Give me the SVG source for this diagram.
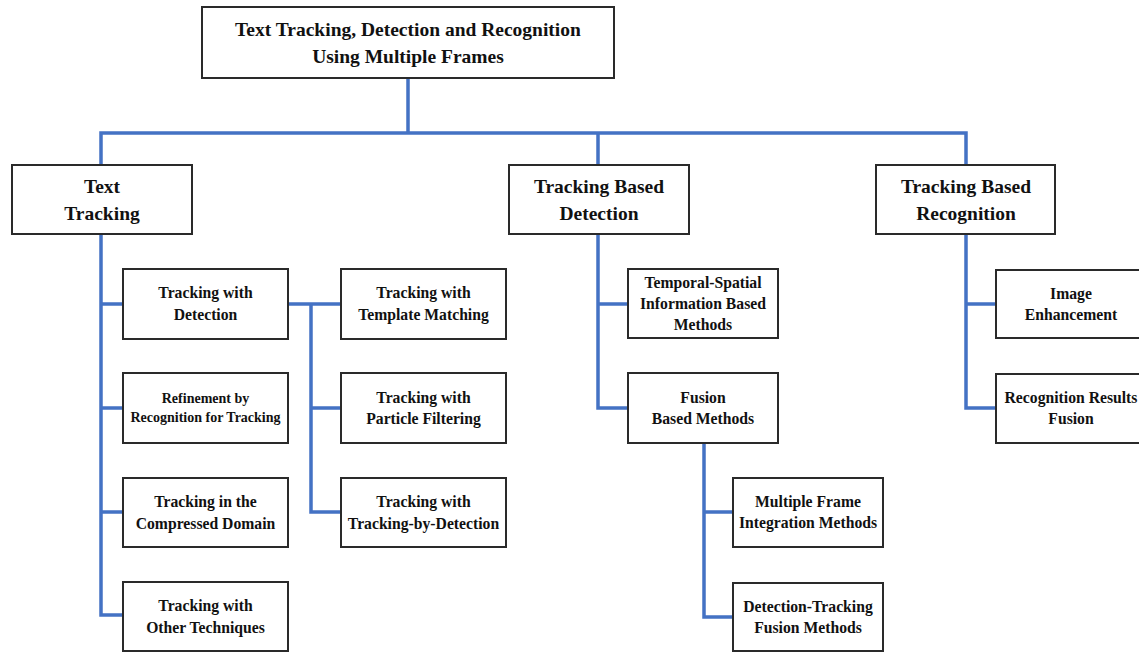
<svg xmlns="http://www.w3.org/2000/svg" width="1139" height="652" viewBox="0 0 1139 652">
<style>
.box{fill:#fff;stroke:#2a2a2a;stroke-width:2}
.t{font-family:"Liberation Serif","Times New Roman",serif;font-weight:bold;fill:#111;text-anchor:middle}
.t1{font-size:19.5px}
.t3{font-size:15.7px}
.t4{font-size:14px}
.c{fill:none;stroke:#4472c4;stroke-width:3.5;stroke-linejoin:miter}
</style>
<rect width="1139" height="652" fill="#fff"/>
<g id="connectors">
<path class="c" d="M408 78 V133 M101 165 V133 H966 V165 M598 133 V165"/>
<path class="c" d="M101 234 V615 H123 M101 304 H123 M101 408 H123 M101 512 H123"/>
<path class="c" d="M288 304 H341 M311 304 V512 H341 M311 408 H341"/>
<path class="c" d="M598 234 V408 H628 M598 304 H628"/>
<path class="c" d="M704 443 V617 H733 M704 512 H733"/>
<path class="c" d="M966 234 V408 H996 M966 304 H996"/>
</g>
<g id="root"><rect class="box" x="202" y="7" width="412" height="71"/>
<text class="t t1" x="408" y="36">Text Tracking, Detection and Recognition</text>
<text class="t t1" x="408" y="63">Using Multiple Frames</text></g>
<g id="text-tracking"><rect class="box" x="12" y="165" width="180" height="69"/>
<text class="t t1" x="102" y="193">Text</text>
<text class="t t1" x="102" y="220">Tracking</text></g>
<g id="tracking-based-detection"><rect class="box" x="509" y="165" width="180" height="69"/>
<text class="t t1" x="599" y="193">Tracking Based</text>
<text class="t t1" x="599" y="220">Detection</text></g>
<g id="tracking-based-recognition"><rect class="box" x="876" y="165" width="179" height="69"/>
<text class="t t1" x="966" y="193">Tracking Based</text>
<text class="t t1" x="966" y="220">Recognition</text></g>
<g id="tracking-with-detection"><rect class="box" x="123" y="269" width="165" height="70"/>
<text class="t t3" x="205.5" y="298">Tracking with</text>
<text class="t t3" x="205.5" y="320">Detection</text></g>
<g id="refinement"><rect class="box" x="123" y="373" width="165" height="70"/>
<text class="t t4" x="205.5" y="403">Refinement by</text>
<text class="t t4" x="205.5" y="422">Recognition for Tracking</text></g>
<g id="compressed-domain"><rect class="box" x="123" y="478" width="165" height="69"/>
<text class="t t3" x="205.5" y="507">Tracking in the</text>
<text class="t t3" x="205.5" y="529">Compressed Domain</text></g>
<g id="other-techniques"><rect class="box" x="123" y="582" width="165" height="69"/>
<text class="t t3" x="205.5" y="611">Tracking with</text>
<text class="t t3" x="205.5" y="633">Other Techniques</text></g>
<g id="template-matching"><rect class="box" x="341" y="269" width="165" height="70"/>
<text class="t t3" x="423.5" y="298">Tracking with</text>
<text class="t t3" x="423.5" y="320">Template Matching</text></g>
<g id="particle-filtering"><rect class="box" x="341" y="373" width="165" height="70"/>
<text class="t t3" x="423.5" y="403">Tracking with</text>
<text class="t t3" x="423.5" y="424">Particle Filtering</text></g>
<g id="tracking-by-detection"><rect class="box" x="341" y="478" width="165" height="69"/>
<text class="t t3" x="423.5" y="507">Tracking with</text>
<text class="t t3" x="423.5" y="529">Tracking-by-Detection</text></g>
<g id="temporal-spatial"><rect class="box" x="628" y="269" width="150" height="69"/>
<text class="t t3" x="703" y="288">Temporal-Spatial</text>
<text class="t t3" x="703" y="309">Information Based</text>
<text class="t t3" x="703" y="330">Methods</text></g>
<g id="fusion-based"><rect class="box" x="628" y="373" width="150" height="70"/>
<text class="t t3" x="703" y="403">Fusion</text>
<text class="t t3" x="703" y="424">Based Methods</text></g>
<g id="multiple-frame"><rect class="box" x="733" y="478" width="150" height="69"/>
<text class="t t3" x="808" y="507">Multiple Frame</text>
<text class="t t3" x="808" y="528">Integration Methods</text></g>
<g id="detection-tracking-fusion"><rect class="box" x="733" y="583" width="150" height="68"/>
<text class="t t3" x="808" y="612">Detection-Tracking</text>
<text class="t t3" x="808" y="633">Fusion Methods</text></g>
<g id="image-enhancement"><rect class="box" x="996" y="270" width="150" height="68"/>
<text class="t t3" x="1071" y="299">Image</text>
<text class="t t3" x="1071" y="320">Enhancement</text></g>
<g id="recognition-results-fusion"><rect class="box" x="996" y="374" width="150" height="69"/>
<text class="t t3" x="1071" y="403">Recognition Results</text>
<text class="t t3" x="1071" y="424">Fusion</text></g>
</svg>
